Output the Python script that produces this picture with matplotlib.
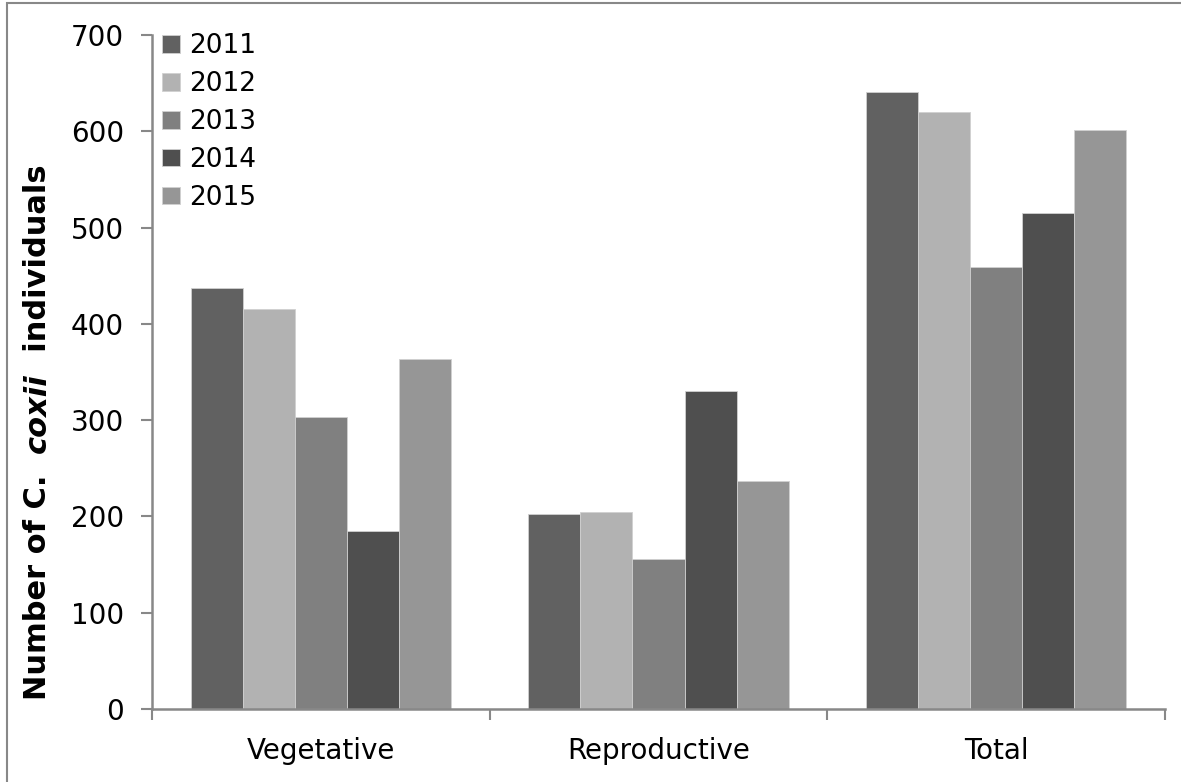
import numpy as np
import matplotlib.pyplot as plt
from matplotlib.patches import Rectangle

categories = ['Vegetative', 'Reproductive', 'Total']
years = ['2011', '2012', '2013', '2014', '2015']
counts = {
    '2011': [437, 203, 641],
    '2012': [415, 205, 620],
    '2013': [303, 156, 459],
    '2014': [185, 330, 515],
    '2015': [364, 237, 601],
}
colors = ['#616161', '#b2b2b2', '#808080', '#4f4f4f', '#969696']
y_ticks = [0, 100, 200, 300, 400, 500, 600, 700]

plt.rcParams['font.family'] = ['DejaVu Sans']
axis_grey = '#888888'

fig = plt.figure(figsize=(11.81, 7.82), dpi=100)
W, H = 1181, 782
ax = fig.add_axes([152 / W, 1 - 709 / H, (1165 - 152) / W, (709 - 35) / H])

# outer frame, clipped at the right and bottom edges
fig.patches.append(Rectangle((7 / W, -0.05), 1.2, 1 - 3 / H + 0.05,
                             transform=fig.transFigure, fill=False,
                             edgecolor=axis_grey, linewidth=1.5))

x = np.arange(len(categories))
bw = 0.154
for i, (yr, c) in enumerate(zip(years, colors)):
    offs = (i - 2) * bw
    ax.bar(x + offs, counts[yr], width=bw, color=c, label=yr,
           edgecolor='#d0d0d0', linewidth=0.6)

ax.set_xlim(-0.5, 2.5)
ax.set_ylim(0, 700)
ax.set_yticks(y_ticks)
ax.set_yticklabels([str(v) for v in y_ticks], fontsize=20)
ax.set_xticks(x)
ax.set_xticklabels(categories, fontsize=20)
ax.tick_params(axis='x', length=0, pad=20)
ax.tick_params(axis='y', length=8, width=1.5, color=axis_grey, pad=12)

# category boundary ticks below the axis
ax.set_xticks([-0.5, 0.5, 1.5, 2.5], minor=True)
ax.tick_params(axis='x', which='minor', length=8, width=1.5, color=axis_grey)

for s in ['top', 'right']:
    ax.spines[s].set_visible(False)
for s in ['left', 'bottom']:
    ax.spines[s].set_color(axis_grey)
    ax.spines[s].set_linewidth(1.8)

leg = ax.legend(loc='upper left', bbox_to_anchor=(-0.008, 1.03), frameon=False,
                fontsize=19, handlelength=0.65, handleheight=0.65,
                handletextpad=0.35, labelspacing=0.45, borderaxespad=0.3)

# y-axis label built from pieces so the species name can be bold italic
fig.canvas.draw()
r = fig.canvas.get_renderer()
parts = [('Number of C.  ', 'normal'), ('coxii', 'italic'), ('  individuals', 'normal')]
y0 = (782 - 700) / H
xpos = 37 / W
for txt, style in parts:
    t = fig.text(xpos, y0, txt, rotation=90, fontsize=22, fontweight='bold',
                 fontstyle=style, ha='left', va='center',
                 rotation_mode='anchor')
    ext = t.get_window_extent(r)
    y0 += ext.height / fig.bbox.height

fig.savefig('out.png', dpi=100)
